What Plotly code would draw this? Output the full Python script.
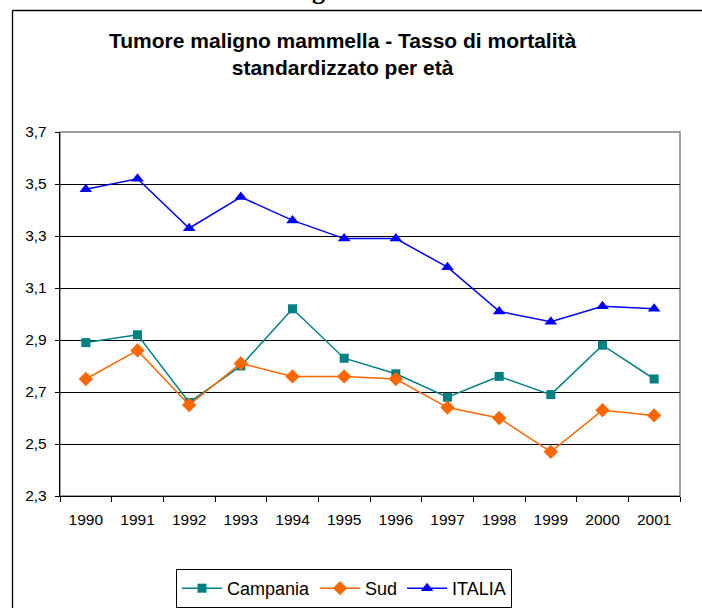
import plotly.graph_objects as go

years = ["1990", "1991", "1992", "1993", "1994", "1995", "1996", "1997", "1998", "1999", "2000", "2001"]
campania = [2.89, 2.92, 2.66, 2.80, 3.02, 2.83, 2.77, 2.68, 2.76, 2.69, 2.88, 2.75]
sud = [2.75, 2.86, 2.65, 2.81, 2.76, 2.76, 2.75, 2.64, 2.60, 2.47, 2.63, 2.61]
italia = [3.48, 3.52, 3.33, 3.45, 3.36, 3.29, 3.29, 3.18, 3.01, 2.97, 3.03, 3.02]
y_ticks = [2.3, 2.5, 2.7, 2.9, 3.1, 3.3, 3.5, 3.7]

FONT = "Arial, Liberation Sans, sans-serif"

fig = go.Figure()
fig.add_trace(go.Scatter(x=years, y=campania, name="Campania", mode="lines+markers",
                         line=dict(color="#008080", width=1.5),
                         marker=dict(symbol="square", size=9, color="#008080")))
fig.add_trace(go.Scatter(x=years, y=sud, name="Sud", mode="lines+markers",
                         line=dict(color="#FF6600", width=1.5),
                         marker=dict(symbol="diamond", size=11, color="#FF6600")))
fig.add_trace(go.Scatter(x=years, y=italia, name="ITALIA", mode="lines+markers",
                         line=dict(color="#0000FF", width=1.5),
                         marker=dict(symbol="triangle-up", size=11, color="#0000FF")))

# figure is a little taller than the 608px window; the extra strip is hidden
W, H = 702, 624
OFF = 0  # body margin removed below
L, R, T, B = 60, 22, 132, 128
pw, ph = W - L - R, H - T - B


def px_x(X):
    return (X - OFF - L) / pw


def px_y(Y):
    return (H - B - (Y - OFF)) / ph


shapes = [
    # outer chart frame: left and top edges are the visible ones
    dict(type="line", xref="paper", yref="paper", x0=px_x(12.5), x1=px_x(12.5), y0=px_y(10.5), y1=px_y(660),
         line=dict(color="black", width=1.3), layer="below"),
    dict(type="line", xref="paper", yref="paper", x0=px_x(12.5), x1=px_x(720), y0=px_y(10.5), y1=px_y(10.5),
         line=dict(color="black", width=1.3), layer="below"),
    # plot area gray border
    dict(type="rect", xref="paper", yref="paper", x0=0, x1=1, y0=0, y1=1,
         line=dict(color="#808080", width=1.5), fillcolor="rgba(0,0,0,0)", layer="below"),
]

fig.update_layout(
    width=W, height=H,
    margin=dict(l=L, r=R, t=T, b=B, pad=0),
    paper_bgcolor="white", plot_bgcolor="white",
    separators=",.",
    font=dict(family=FONT, color="black", size=15),
    xaxis=dict(type="category", range=[-0.5, 11.5], tickson="boundaries",
               ticks="outside", ticklen=5, tickcolor="black", tickwidth=1,
               showline=True, linecolor="black", linewidth=1.3,
               showgrid=False, zeroline=False, ticklabelstandoff=9,
               tickfont=dict(family=FONT, size=15.5, color="black")),
    yaxis=dict(range=[2.3, 3.7], tickvals=y_ticks, tickformat=".1f",
               ticks="outside", ticklen=4, tickcolor="black",
               showline=True, linecolor="black", linewidth=1.3,
               showgrid=True, gridcolor="black", gridwidth=1,
               zeroline=False, ticklabelstandoff=5,
               tickfont=dict(family=FONT, size=15.5, color="black")),
    legend=dict(orientation="h", x=px_x(344), xanchor="center", y=px_y(569), yanchor="top",
                bordercolor="black", borderwidth=1, bgcolor="white",
                font=dict(family=FONT, size=18, color="black"),
                itemwidth=40, traceorder="normal"),
    shapes=shapes,
    showlegend=True,
)

fig.add_annotation(text="<b>Tumore maligno mammella - Tasso di mortalità<br>standardizzato per età</b>",
                   xref="paper", yref="paper", x=px_x(342), y=px_y(27),
                   xanchor="center", yanchor="top", showarrow=False, align="center",
                   font=dict(family=FONT, size=21, color="black"))

fig.add_annotation(text="<b>g</b>", xref="paper", yref="paper", x=px_x(318), y=px_y(7),
                   xanchor="center", yanchor="bottom", showarrow=False,
                   font=dict(family="Liberation Serif, Times New Roman, serif", size=26, color="black"))

fig.write_html(
    "out.html",
    default_width=f"{W}px",
    default_height=f"{H}px",
    config={"displayModeBar": False, "responsive": False},
    post_script=(
        "document.documentElement.style.overflow='hidden';"
        "document.body.style.overflow='hidden';"
        "document.body.style.margin='0';"
    ),
)
